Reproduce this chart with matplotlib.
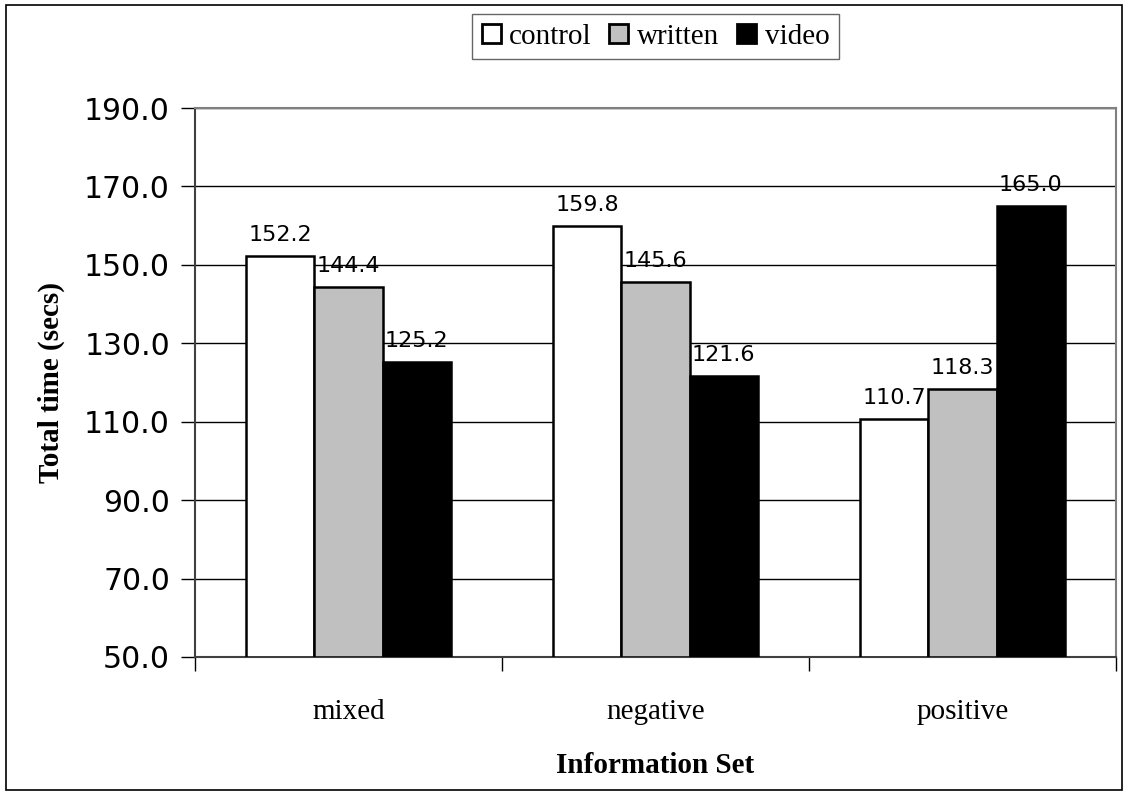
import matplotlib
matplotlib.use("Agg")
import matplotlib.pyplot as plt
import numpy as np
from matplotlib.patches import Rectangle

categories = ["mixed", "negative", "positive"]
series_names = ["control", "written", "video"]
control = [152.2, 159.8, 110.7]
written = [144.4, 145.6, 118.3]
video = [125.2, 121.6, 165.0]
y_ticks = [50.0, 70.0, 90.0, 110.0, 130.0, 150.0, 170.0, 190.0]

colors = ["#FFFFFF", "#C0C0C0", "#000000"]
serif = "Liberation Serif"
sans = "DejaVu Sans"

fig = plt.figure(figsize=(11.28, 7.95), dpi=100)
ax = fig.add_axes([195 / 1128, 1 - 657 / 795, (1116 - 195) / 1128, (657 - 108) / 795])

# outer chart border
fig.patches.append(Rectangle((6 / 1128, 5 / 795), 1116 / 1128, 785 / 795,
                             transform=fig.transFigure, fill=False,
                             edgecolor="black", linewidth=1.2))

x = np.arange(len(categories))
w = 1 / 4.5
series = [control, written, video]
for i, (vals, name, c) in enumerate(zip(series, series_names, colors)):
    bars = ax.bar(x + (i - 1) * w, np.array(vals) - 50, bottom=50, width=w,
                  color=c, edgecolor="black", linewidth=1.8, label=name, zorder=3)
    ax.bar_label(bars, labels=[f"{v:.1f}" for v in vals], padding=8,
                 fontsize=16, fontfamily=sans, zorder=4)

ax.set_ylim(50, 190)
ax.set_xlim(-0.5, 2.5)
ax.set_yticks(y_ticks)
ax.set_yticklabels([f"{v:.1f}" for v in y_ticks], fontfamily=sans, fontsize=21.5)
ax.yaxis.grid(True, color="black", linewidth=1.0, zorder=0)
ax.set_axisbelow(True)

ax.set_xticks(x)
ax.set_xticklabels(categories, fontfamily=serif, fontsize=21)
ax.tick_params(axis="x", length=0, pad=30)
ax.set_xticks([-0.5, 0.5, 1.5, 2.5], minor=True)
ax.tick_params(axis="x", which="minor", length=10, width=1, direction="out")
ax.tick_params(axis="y", length=10, width=1, direction="out", pad=8)

for side in ["top", "right"]:
    ax.spines[side].set_color("#808080")
    ax.spines[side].set_linewidth(1.5)
ax.spines["left"].set_color("#404040")
ax.spines["left"].set_linewidth(1.5)
ax.spines["bottom"].set_color("#404040")
ax.spines["bottom"].set_linewidth(1.5)

ax.set_xlabel("Information Set", fontfamily=serif, fontweight="bold", fontsize=21, labelpad=20)
ax.set_ylabel("Total time (secs)", fontfamily=serif, fontweight="bold", fontsize=21, labelpad=14)

leg = fig.legend(loc="center", bbox_to_anchor=(655.5 / 1128, 1 - 36.5 / 795), ncol=3,
                 prop={"family": serif, "size": 21}, frameon=True, fancybox=False,
                 edgecolor="#404040", handlelength=0.65, handleheight=0.65,
                 handletextpad=0.3, columnspacing=0.6, borderpad=0.32,
                 borderaxespad=0)
leg.get_frame().set_linewidth(1.0)
for h in leg.legend_handles:
    h.set_linewidth(2.0)

fig.savefig("out.png", dpi=100)
